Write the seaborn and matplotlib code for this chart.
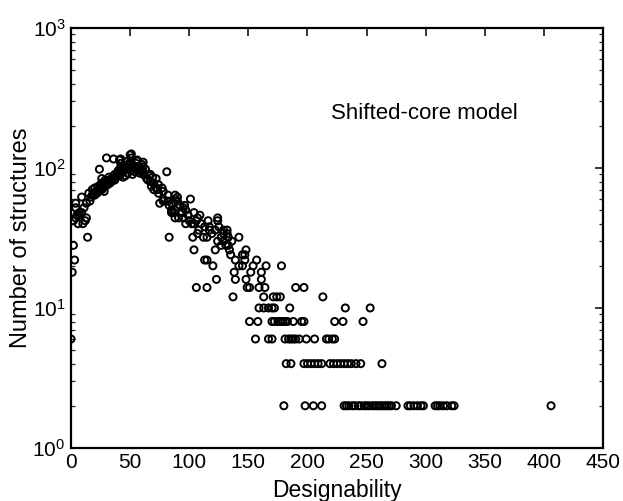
import matplotlib
matplotlib.use("Agg")
import matplotlib.pyplot as plt
import seaborn as sns
import pandas as pd
from matplotlib.ticker import LogLocator, FixedLocator

# Data: designability (x) and number of structures (y)
designability = [
    # count 2
    180, 198, 205, 212, 231, 233, 235, 238, 240, 243, 245, 248, 250, 252, 255, 257,
    259, 261, 263, 265, 267, 269, 271, 275, 285, 287, 290, 293, 296, 298, 308, 310,
    312, 315, 318, 322, 324, 406,
    # count 4
    182, 186, 197, 200, 203, 206, 209, 212, 219, 222, 225, 228, 231, 234, 237, 241, 245, 263,
    # count 6
    0, 156, 167, 170, 181, 184, 186, 188, 190, 193, 199, 206, 216, 218, 221, 223,
    # count 8
    151, 158, 170, 172, 175, 177, 179, 181, 183, 188, 195, 197, 223, 230, 247,
    # count 10
    159, 163, 167, 170, 172, 185, 232, 253,
    # count 12
    137, 163, 171, 174, 177, 213,
    # count 14
    106, 115, 149, 151, 159, 164, 190, 197,
    # count 16
    123, 139, 148, 161,
    # count 18
    1, 138, 152, 161,
    # count 20
    120, 142, 145, 154, 165, 178,
    # count 22
    3, 113, 115, 139, 147, 157,
    # count 24
    135, 145, 147,
    # count 26
    104, 122, 134, 148,
    # count 28
    2, 127, 131, 133,
    # count 30
    124, 129, 136,
    # count 32
    14, 83, 103, 112, 115, 127, 133, 142,
    # count 34
    107, 119, 129, 132,
    # count 36
    108, 117, 122, 129, 132,
    # count 38
    113, 117, 125,
    # count 40
    6, 10, 97, 102, 104, 110,
    # count 42
    2, 12, 100, 106, 116, 124,
    # count 44
    4, 13, 88, 91, 95, 107, 124,
    # count 46
    5, 7, 99, 109,
    # count 48
    7, 9, 85, 87, 94, 104,
    # count 50
    85, 88, 97,
    # count 52
    4, 11, 95,
    # count 54
    83, 92, 96,
    # count 56
    4, 13, 75, 85,
    # count 58
    16, 78, 82, 90,
    # count 60
    78, 101, 88,
    # count 62
    9, 90, 17,
    # count 64
    18, 82, 88, 20,
    # count 66
    15, 19, 74, 22,
    # count 68
    21, 28, 78, 23,
    # count 70
    18, 24, 70, 73, 26,
    # count 72
    20, 25, 72, 77, 27,
    # count 74
    23, 68, 29,
    # count 76
    25, 30, 74, 31,
    # count 78
    26, 31, 70, 33,
    # count 80
    28, 67, 34,
    # count 82
    29, 35, 65, 37,
    # count 84
    26, 34, 64, 72,
    # count 86
    32, 38, 69, 44,
    # count 88
    36, 41, 66, 46,
    # count 90
    37, 39, 61, 67, 52,
    # count 92
    39, 43, 58, 62, 48,
    # count 94
    41, 60, 81, 54,
    # count 96
    40, 51, 60, 57,
    # count 98
    24, 44, 48, 55, 63,
    # count 100
    42, 47, 55, 59,
    # count 102
    45, 56, 61,
    # count 104
    47, 53,
    # count 106
    49, 60,
    # count 108
    42, 55,
    # count 110
    50, 61,
    # count 112
    48, 56,
    # count 114
    41, 56,
    # count 116
    36, 42,
    # count 118
    30, 51,
    # count 124
    50,
    # count 126
    51,
]

n_structures = [2] * 38 + [4] * 18 + [6] * 16 + [8] * 15 + [10] * 8 + [12] * 6 + \
    [14] * 8 + [16] * 4 + [18] * 4 + [20] * 6 + [22] * 6 + [24] * 3 + [26] * 4 + \
    [28] * 4 + [30] * 3 + [32] * 8 + [34] * 4 + [36] * 5 + [38] * 3 + [40] * 6 + \
    [42] * 6 + [44] * 7 + [46] * 4 + [48] * 6 + [50] * 3 + [52] * 3 + [54] * 3 + \
    [56] * 4 + [58] * 4 + [60] * 3 + [62] * 3 + [64] * 4 + [66] * 4 + [68] * 4 + \
    [70] * 5 + [72] * 5 + [74] * 3 + [76] * 4 + [78] * 4 + [80] * 3 + [82] * 4 + \
    [84] * 4 + [86] * 4 + [88] * 4 + [90] * 5 + [92] * 5 + [94] * 4 + [96] * 4 + \
    [98] * 5 + [100] * 4 + [102] * 3 + [104] * 2 + [106] * 2 + [108] * 2 + \
    [110] * 2 + [112] * 2 + [114] * 2 + [116] * 2 + [118] * 2 + [124] + [126]

x_ticks = [0, 50, 100, 150, 200, 250, 300, 350, 400, 450]
annotation = "Shifted-core model"

sns.set_theme(style="white")
plt.rcParams['font.family'] = ['Liberation Sans', 'DejaVu Sans']
plt.rcParams['mathtext.fontset'] = 'custom'
plt.rcParams['mathtext.rm'] = 'Liberation Sans'
plt.rcParams['mathtext.it'] = 'Liberation Sans'
plt.rcParams['mathtext.bf'] = 'Liberation Sans'

n = min(len(designability), len(n_structures))
df = pd.DataFrame({"Designability": designability[:n],
                   "Number of structures": n_structures[:n]})

fig = plt.figure(figsize=(6.23, 5.01), dpi=100)
ax = fig.add_axes([0.114, 0.106, 0.854, 0.838])

sns.scatterplot(data=df, x="Designability", y="Number of structures", ax=ax,
                marker='o', s=26, facecolors='none', edgecolor='black',
                linewidth=1.4, legend=False)

ax.set_yscale('log')
ax.set_xlim(0, 450)
ax.set_ylim(1, 1000)
ax.xaxis.set_major_locator(FixedLocator(x_ticks))
ax.set_xticklabels([str(t) for t in x_ticks])
ax.yaxis.set_major_locator(LogLocator(base=10, numticks=10))
ax.yaxis.set_minor_locator(LogLocator(base=10, subs=range(2, 10), numticks=20))

for side in ax.spines.values():
    side.set_color('black')
    side.set_linewidth(1.6)

ax.tick_params(which='major', direction='in', length=6, width=1.1, top=True, right=True,
               labelsize=15, colors='black', pad=4)
ax.tick_params(which='minor', direction='in', length=3, width=0.9, left=True, right=True)

ax.set_xlabel("Designability", fontsize=16.5, color='black', labelpad=5)
ax.set_ylabel("Number of structures", fontsize=17, color='black', labelpad=0)

ax.text(220, 247, annotation, fontsize=16, color='black', ha='left', va='center')

fig.savefig("out.png", dpi=100)
